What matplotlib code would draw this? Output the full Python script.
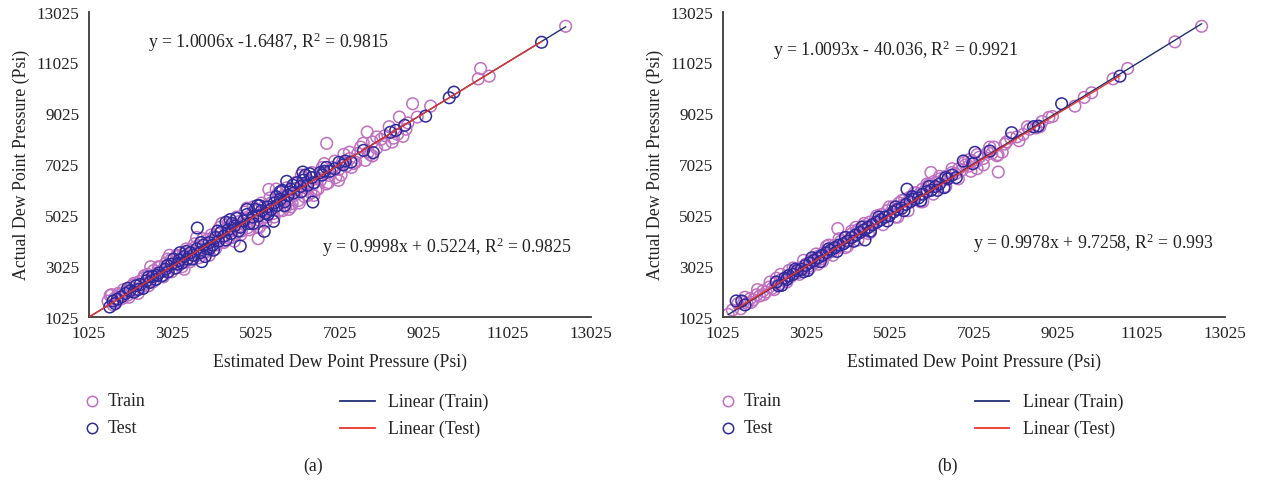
import matplotlib
matplotlib.use("Agg")
import matplotlib.pyplot as plt
from matplotlib.lines import Line2D

plt.rcParams['font.family'] = ['Liberation Serif', 'DejaVu Serif']
plt.rcParams['mathtext.fontset'] = 'custom'
plt.rcParams['mathtext.rm'] = 'Liberation Serif'
plt.rcParams['mathtext.it'] = 'Liberation Serif:italic'

# ---------------- data ----------------
ticks = [1025, 3025, 5025, 7025, 9025, 11025, 13025]
tick_labels = ["1025", "3025", "5025", "7025", "9025", "11025", "13025"]

a_train = [(1480,1650),(1530,1870),(1563,1902),(1640,1760),(1700,1640),(1760,1900),(1830,1760),(1900,2020),
 (1950,1880),(2010,2200),(2060,2010),(2120,2300),(2170,2120),(2230,2420),(2280,2200),(2330,2560),(2380,2330),
 (2430,2700),(2470,2420),(2520,2600),(2570,2850),(2610,2480),(2660,2760),(2710,2980),(2750,2640),(2800,2900),
 (2850,3120),(2890,2780),(2940,3050),(2990,3280),(3040,2930),(3090,3200),(3140,3400),(3180,3060),(3230,3320),
 (3280,3500),(3330,3180),(3380,3460),(3430,3650),(3480,3330),(3520,3560),(3570,3780),(3620,3450),(3670,3700),
 (3720,3950),(3770,3560),(3820,3880),(3870,4080),(3920,3750),(3970,3990),(4020,4200),(4070,3860),(4120,4130),
 (4170,4350),(4220,4000),(4270,4250),(4320,4500),(4370,4120),(4420,4400),(4470,4640),(4520,4250),(4570,4530),
 (4620,4780),(4670,4400),(4720,4680),(4770,4920),(4820,4530),(4870,4800),(4920,5060),(4970,4660),(5020,4960),
 (5068,4101),(5070,5220),(5120,4800),(5170,5080),(5220,5360),(5270,4950),(5324,6038),(5330,5230),(5380,5500),
 (5430,5090),(5480,5380),(5530,5640),(5580,5220),(5630,5520),(5680,5800),(5730,5350),(5780,5650),(5830,5950),
 (5880,5480),(5930,5800),(5980,6080),(6030,5600),(6080,5930),(6130,6250),(6180,5750),(6230,6080),(6280,6380),
 (6330,5900),(6380,6230),(6430,6520),(6500,6050),(6560,6400),(6620,6700),(6700,6250),(6706,7846),(6780,6580),
 (6850,6900),(6920,6500),(6991,6392),(7000,6820),(7080,7100),(7119,7414),(7180,6950),(7260,7250),(7350,7050),
 (7450,7450),(7520,7700),(7632,7177),(7675,8290),(7700,7500),(7800,7900),(7900,7650),(8000,8000),(8100,8150),
 (8273,7897),(8300,8050),(8444,8879),(8529,8120),(8600,8400),(8761,9402),(8871,8879),(9191,9308),(10330,10379),
 (10386,10786),(10592,10484),(12418,12444),
 (1600,1500),(1720,1950),(1850,2100),(1980,1800),(2100,2350),(2200,1950),(2350,2650),(2450,2250),(2550,2400),
 (2680,3000),(2800,2600),(2900,3300),(3000,2800),(3120,3450),(3250,3000),(3350,3700),(3450,3200),(3550,3900),
 (3650,3350),(3750,4100),(3850,3600),(3950,4250),(4050,3700),(4150,4550),(4250,3950),(4350,4700),(4450,4150),
 (4550,4950),(4650,4250),(4750,5150),(4850,4450),(4950,5350),(5050,4550),(5150,5500),(5250,4750),(5350,5700),
 (5450,4950),(5550,5900),(5650,5200),(5750,6100),(5850,5350),(5950,6300),(6050,5500),(6150,6500),(6250,5800),
 (6350,6700),(6450,6000),(6600,6900),(6750,6300),(6900,7150),(7050,6600),(7250,7500),(7400,7100),(7580,7850),
 (7750,7400),(7900,8100),(8100,7800),(8200,8500),(8400,8200),(8650,8650),
 (2500,3000),(2950,3450),(3300,2900),(3600,4150),(3900,3450),(4200,4700),(4500,4000),(4800,5300),(5100,4550),
 (5500,6050),(5800,5250),(6100,6600),(6400,5800),(6650,7050),(7300,6900),(7800,7350)]

a_test = [(1521,1418),(1600,1650),(1700,1720),(1800,1820),(1900,1950),(2000,2050),(2100,2000),(2150,2250),
 (2250,2300),(2320,2150),(2400,2450),(2480,2380),(2550,2620),(2620,2500),(2700,2750),(2780,2650),(2850,2900),
 (2920,2800),(3000,3100),(3050,3300),(3100,2950),(3180,3250),(3250,3150),(3300,3400),(3380,3300),(3450,3550),
 (3520,3450),(3615,4520),(3600,3700),(3680,3550),(3720,3200),(3760,3850),(3840,3700),(3900,3950),(3980,3850),
 (4050,4150),(4120,4000),(4180,4350),(4250,4200),(4300,4750),(4350,4450),(4420,4300),(4500,4600),(4560,4900),
 (4640,3813),(4650,4550),(4720,4800),(4800,5050),(4860,4700),(4940,4950),(5000,5250),(5080,5000),(5150,5200),
 (5213,4389),(5250,5100),(5300,5350),(5380,5250),(5435,4782),(5450,5500),(5520,5400),(5600,5650),(5650,6000),
 (5700,5550),(5751,6353),(5780,5800),(5850,6050),(5920,5900),(6000,6300),(6080,6150),(6136,6719),(6150,6400),
 (6250,6200),(6375,5541),(6350,6500),(6550,6700),(6650,6750),(6780,6750),(7000,7100),(7150,7150),(7290,7112),
 (7589,7570),(7820,7481),(8230,8280),(8358,8355),(8572,8552),(9072,8916),(9637,9637),(9749,9857),(11844,11817),
 (1650,1550),(1950,2150),(2200,2100),(2450,2600),(2650,2650),(2900,3050),(3150,3100),(3350,3600),(3500,3300),
 (3700,3950),(3900,3700),(4100,4400),(4300,4050),(4450,4700),(4600,4400),(4800,5250),(4950,4700),(5100,5400),
 (5300,5050),(5500,5750),(5700,5400),(5900,6200),(6100,5950),(6200,6600),(6400,6300),(6600,6600),(6700,6900),
 (6900,6850),(7100,7000),
 (3200,3550),(3800,3400),(4400,4850),(5050,5400),(5600,5950),(6300,6650),(4000,3650)]

b_train = [(1149,1130),(1450,1350),(1520,1600),(1600,1550),(1680,1750),(1750,1700),(1830,1900),(1900,1850),
 (1980,2050),(2050,2000),(2130,2200),(2200,2150),(2280,2350),(2300,2550),(2350,2300),(2420,2500),(2500,2450),
 (2570,2650),(2600,2850),(2640,2600),(2720,2800),(2790,2750),(2860,2950),(2930,2880),(3000,3100),(3070,3020),
 (3140,3250),(3210,3150),(3280,3400),(3300,3100),(3350,3300),(3420,3550),(3490,3450),(3500,3800),(3560,3700),
 (3630,3600),(3700,3850),(3769,4499),(3770,3750),(3840,4000),(3900,3900),(3970,4150),(4000,3800),(4040,4050),
 (4110,4300),(4180,4200),(4200,4550),(4250,4450),(4320,4350),(4390,4600),(4460,4500),(4500,4300),(4530,4750),
 (4600,4650),(4670,4900),(4740,4800),(4810,5050),(4880,4950),(4950,5200),(5020,5100),(5090,5350),(5160,5250),
 (5200,4950),(5230,5500),(5300,5400),(5370,5650),(5440,5550),(5510,5750),(5580,5700),(5650,5900),(5720,5850),
 (5790,6050),(5800,5550),(5860,6000),(5930,6200),(5996,6702),(6000,6150),(6070,6350),(6140,6300),(6210,6450),
 (6280,6400),(6300,6100),(6350,6550),(6420,6500),(6500,6700),(6580,6650),(6660,6850),(6740,6800),(6820,7000),
 (6900,6950),(6900,7200),(6980,7150),(7060,7100),(7100,6850),(7150,7300),(7250,7250),(7350,7500),(7450,7450),
 (7500,7700),(7574,7357),(7605,6721),(7600,7400),(7765,7816),(7800,7900),(8050,8100),(8200,8200),(8350,8400),
 (8500,8450),(8650,8700),(8816,8865),(9438,9308),(9660,9650),(9837,9833),(10350,10380),(10697,10786),
 (11828,11833),(12466,12444),
 (1250,1300),(1380,1550),(1550,1800),(1700,1600),(1850,2100),(2000,1900),(2150,2400),(2250,2100),(2400,2700),
 (2550,2400),(2700,2950),(2850,2700),(2950,3250),(3100,2950),(3250,3500),(3400,3200),(3550,3850),(3650,3450),
 (3800,4100),(3950,3750),(4100,4400),(4250,4050),(4400,4700),(4550,4350),(4700,5000),(4850,4650),(5000,5350),
 (5150,4950),(5300,5600),(5450,5200),(5600,5900),(5750,5550),(5900,6250),(6050,5850),(6200,6550),(6350,6150),
 (6500,6850),(6650,6450),(6800,7100),(6950,6750),(7100,7400),(7250,7000),(7400,7700),(7700,7500),(7900,8050),
 (8100,7950),(8300,8500),(8600,8500),(8900,8900)]

b_test = [(1340,1654),(1474,1654),(1550,1500),(2300,2400),(2430,2270),(2500,2550),(2600,2650),(2700,2700),
 (2800,2850),(2900,2900),(3000,3050),(3050,2850),(3100,3150),(3200,3250),(3300,3350),(3400,3450),(3500,3550),
 (3600,3650),(3700,3750),(3800,3850),(3900,3900),(4000,4000),(4100,4150),(4200,4250),(4300,4350),(4419,4053),
 (4400,4450),(4500,4550),(4600,4650),(4700,4750),(4800,4850),(4900,4950),(5000,5000),(5100,5150),(5200,5250),
 (5300,5300),(5423,6046),(5400,5450),(5500,5550),(5600,5650),(5700,5700),(5800,5850),(5900,5950),(6000,6000),
 (6100,6150),(6200,6250),(6312,6112),(6400,6450),(6768,7152),(7048,7493),(7406,7544),(7925,8265),(8450,8500),
 (8561,8524),(9120,9402),(10513,10484),
 (2350,2250),(2550,2500),(2750,2900),(2950,2800),(3150,3350),(3350,3200),(3550,3700),(3750,3600),(3950,4150),
 (4150,4000),(4350,4550),(4550,4400),(4750,4950),(4950,4800),(5150,5350),(5350,5200),(5550,5750),(5750,5600),
 (5950,6150),(6150,6000),(6350,6500),(6500,6600),(6600,6500),(7000,7050)]

# trend line equations shown on the chart (slope, intercept)
a_train_fit = (1.0006, -1.6487)
a_test_fit = (0.9998, 0.5224)
b_train_fit = (1.0093, -40.036)
b_test_fit = (0.9978, 9.7258)

a_eq_train = "y = 1.0006x -1.6487, R$^2$ = 0.9815"
a_eq_test = "y = 0.9998x + 0.5224, R$^2$ = 0.9825"
b_eq_train = "y = 1.0093x - 40.036, R$^2$ = 0.9921"
b_eq_test = "y = 0.9978x + 9.7258, R$^2$ = 0.993"

xlabel = "Estimated Dew Point Pressure (Psi)"
ylabel = "Actual Dew Point Pressure (Psi)"

# ---------------- style ----------------
C_TRAIN = "#c070c0"
C_TEST = "#2e2a9c"
C_LTRAIN = "#1f2f72"
C_LTEST = "#e8342c"
AXC = "#3a3a3a"
TXT = "#222222"
FS = 12.3
FS2 = 12.8

W, H = 1265, 481
fig = plt.figure(figsize=(W / 100, H / 100), dpi=100)


def fx(px):
    return px / W


def fy(py):
    return 1 - py / H


def panel(left_px, train, test, ftr, fte, eq_tr, eq_te, eq_tr_pos, eq_te_pos,
          line_start_a, leg_x, cap_x, cap):
    ax = fig.add_axes([fx(left_px), fy(318), 502 / W, (318 - 12.5) / H])
    tx, ty = zip(*train)
    sx, sy = zip(*test)
    ax.scatter(tx, ty, s=70, facecolors="none", edgecolors=C_TRAIN, linewidths=1.1, zorder=2)
    ax.scatter(sx, sy, s=70, facecolors="none", edgecolors=C_TEST, linewidths=1.1, zorder=3)
    x0 = 1025 if line_start_a else min(tx)
    ax.plot([x0, max(tx)], [ftr[0] * x0 + ftr[1], ftr[0] * max(tx) + ftr[1]],
            color=C_LTRAIN, lw=1.0, zorder=4)
    x0 = 1025 if line_start_a else min(sx)
    ax.plot([x0, max(sx)], [fte[0] * x0 + fte[1], fte[0] * max(sx) + fte[1]],
            color=C_LTEST, lw=1.0, zorder=5)
    ax.set_xlim(1025, 13025)
    ax.set_ylim(1025, 13025)
    ax.set_xticks(ticks)
    ax.set_xticklabels(tick_labels)
    ax.set_yticks(ticks)
    ax.set_yticklabels(tick_labels)
    ax.tick_params(length=0, labelsize=FS, colors=TXT)
    ax.tick_params(axis="y", pad=7.0)
    ax.tick_params(axis="x", pad=6.0)
    for s in ("top", "right"):
        ax.spines[s].set_visible(False)
    for s in ("left", "bottom"):
        ax.spines[s].set_color(AXC)
        ax.spines[s].set_linewidth(1.3)
    ax.set_xlabel(xlabel, fontsize=FS2, color=TXT, labelpad=8)
    ax.set_ylabel(ylabel, fontsize=FS2, color=TXT, labelpad=5)
    fig.text(fx(eq_tr_pos[0]), fy(eq_tr_pos[1]), eq_tr, fontsize=FS2, color=TXT,
             ha="left", va="center")
    fig.text(fx(eq_te_pos[0]), fy(eq_te_pos[1]), eq_te, fontsize=FS2, color=TXT,
             ha="left", va="center")
    # legend
    mx, tx1, lx0, lx1, tx2 = leg_x
    for py, col, lab in ((402, C_TRAIN, "Train"), (429, C_TEST, "Test")):
        fig.add_artist(Line2D([fx(mx)], [fy(py)], marker="o", ms=7.5, mfc="none",
                              mec=col, mew=1.1, transform=fig.transFigure))
        fig.text(fx(tx1), fy(py), lab, fontsize=FS2, color=TXT, ha="left", va="center")
    for py, col, lab in ((402, C_LTRAIN, "Linear (Train)"), (429, C_LTEST, "Linear (Test)")):
        fig.add_artist(Line2D([fx(lx0), fx(lx1)], [fy(py), fy(py)], color=col, lw=1.3,
                              transform=fig.transFigure))
        fig.text(fx(tx2), fy(py), lab, fontsize=FS2, color=TXT, ha="left", va="center")
    fig.text(fx(cap_x), fy(466), cap, fontsize=FS2, color=TXT, ha="center", va="center")
    return ax


panel(89, a_train, a_test, a_train_fit, a_test_fit, a_eq_train, a_eq_test,
      (148, 42), (322, 247), True, (92, 108, 340, 375, 388), 313, "(a)")
panel(723, b_train, b_test, b_train_fit, b_test_fit, b_eq_train, b_eq_test,
      (773, 50), (973, 243), False, (728, 744, 975, 1009, 1023), 947, "(b)")

fig.savefig("out.png", dpi=100, facecolor="white")
